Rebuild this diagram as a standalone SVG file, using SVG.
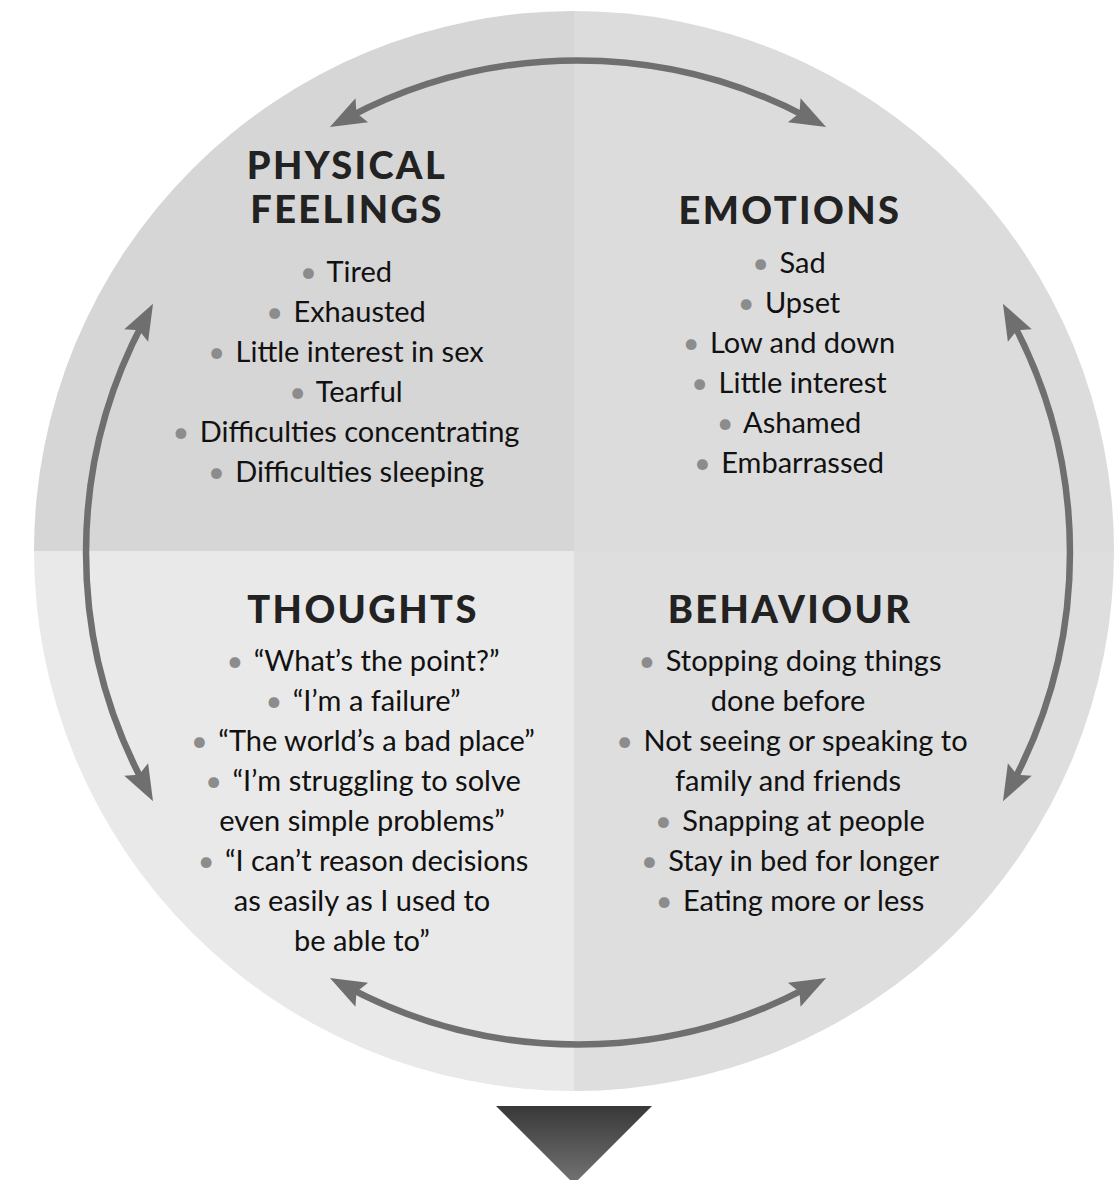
<svg xmlns="http://www.w3.org/2000/svg" width="1119" height="1180" viewBox="0 0 1119 1180">
<style>
.h{font-family:Lato,"Liberation Sans",sans-serif;font-weight:900;font-size:38px;letter-spacing:2.4px;fill:#222;text-anchor:middle}
.t{font-family:Lato,"Liberation Sans",sans-serif;font-weight:400;font-size:29px;fill:#111;text-anchor:middle}
.b{fill:#8c8c8c}
.arc{fill:none;stroke:#6f6f6f;stroke-width:6.5;marker-start:url(#ah);marker-end:url(#ah)}
</style>
<defs>
<clipPath id="cc"><circle cx="574" cy="551" r="540"/></clipPath>
<marker id="ah" markerUnits="userSpaceOnUse" viewBox="-16 -15 38 30" refX="0" refY="0" markerWidth="38" markerHeight="30" orient="auto-start-reverse" overflow="visible">
<path d="M21,0 L-15,-13.5 L-9,0 L-15,13.5 Z" fill="#6f6f6f"/>
</marker>
<linearGradient id="tg" x1="0" y1="0" x2="0" y2="1">
<stop offset="0" stop-color="#383838"/>
<stop offset="1" stop-color="#747474"/>
</linearGradient>
</defs>
<g id="background" clip-path="url(#cc)">
<rect x="0" y="0" width="574" height="551" fill="#d6d6d6"/>
<rect x="574" y="0" width="545" height="551" fill="#dcdcdc"/>
<rect x="0" y="551" width="574" height="560" fill="#e9e9e9"/>
<rect x="574" y="551" width="545" height="560" fill="#dedede"/>
</g>
<g id="connectors">
<path class="arc" d="M348.5,117.3 A492,492 0 0 1 807.5,117.3"/>
<path class="arc" d="M1012.8,322.3 A492,492 0 0 1 1012.8,782.7"/>
<path class="arc" d="M807.5,987.7 A492,492 0 0 1 348.5,987.7"/>
<path class="arc" d="M143.2,782.7 A492,492 0 0 1 143.2,322.3"/>
</g>
<g id="physical">
<text class="h" x="347" y="179">PHYSICAL</text>
<text class="h" x="347" y="223">FEELINGS</text>
<text class="t" x="346" y="282"><tspan class="b">•</tspan><tspan dx="3"> Tired</tspan></text>
<text class="t" x="346" y="322"><tspan class="b">•</tspan><tspan dx="3"> Exhausted</tspan></text>
<text class="t" x="346" y="362"><tspan class="b">•</tspan><tspan dx="3"> Little interest in sex</tspan></text>
<text class="t" x="346" y="402"><tspan class="b">•</tspan><tspan dx="3"> Tearful</tspan></text>
<text class="t" x="346" y="442"><tspan class="b">•</tspan><tspan dx="3"> Difficulties concentrating</tspan></text>
<text class="t" x="346" y="482"><tspan class="b">•</tspan><tspan dx="3"> Difficulties sleeping</tspan></text>
</g>
<g id="emotions">
<text class="h" x="790" y="224">EMOTIONS</text>
<text class="t" x="789" y="273"><tspan class="b">•</tspan><tspan dx="3"> Sad</tspan></text>
<text class="t" x="789" y="313"><tspan class="b">•</tspan><tspan dx="3"> Upset</tspan></text>
<text class="t" x="789" y="353"><tspan class="b">•</tspan><tspan dx="3"> Low and down</tspan></text>
<text class="t" x="789" y="393"><tspan class="b">•</tspan><tspan dx="3"> Little interest</tspan></text>
<text class="t" x="789" y="433"><tspan class="b">•</tspan><tspan dx="3"> Ashamed</tspan></text>
<text class="t" x="789" y="473"><tspan class="b">•</tspan><tspan dx="3"> Embarrassed</tspan></text>
</g>
<g id="thoughts">
<text class="h" x="363" y="623">THOUGHTS</text>
<text class="t" x="363" y="671"><tspan class="b">•</tspan><tspan dx="3"> “What’s the point?”</tspan></text>
<text class="t" x="363" y="711"><tspan class="b">•</tspan><tspan dx="3"> “I’m a failure”</tspan></text>
<text class="t" x="363" y="751"><tspan class="b">•</tspan><tspan dx="3"> “The world’s a bad place”</tspan></text>
<text class="t" x="363" y="791"><tspan class="b">•</tspan><tspan dx="3"> “I’m struggling to solve</tspan></text>
<text class="t" x="362" y="831">even simple problems”</text>
<text class="t" x="363" y="871"><tspan class="b">•</tspan><tspan dx="3"> “I can’t reason decisions</tspan></text>
<text class="t" x="362" y="911">as easily as I used to</text>
<text class="t" x="362" y="951">be able to”</text>
</g>
<g id="behaviour">
<text class="h" x="790" y="623">BEHAVIOUR</text>
<text class="t" x="790" y="671"><tspan class="b">•</tspan><tspan dx="3"> Stopping doing things</tspan></text>
<text class="t" x="788" y="711">done before</text>
<text class="t" x="792" y="751"><tspan class="b">•</tspan><tspan dx="3"> Not seeing or speaking to</tspan></text>
<text class="t" x="788" y="791">family and friends</text>
<text class="t" x="790" y="831"><tspan class="b">•</tspan><tspan dx="3"> Snapping at people</tspan></text>
<text class="t" x="790" y="871"><tspan class="b">•</tspan><tspan dx="3"> Stay in bed for longer</tspan></text>
<text class="t" x="790" y="911"><tspan class="b">•</tspan><tspan dx="3"> Eating more or less</tspan></text>
</g>
<g id="down-arrow">
<polygon points="496,1106 652,1106 574,1184" fill="url(#tg)"/>
</g>
</svg>
